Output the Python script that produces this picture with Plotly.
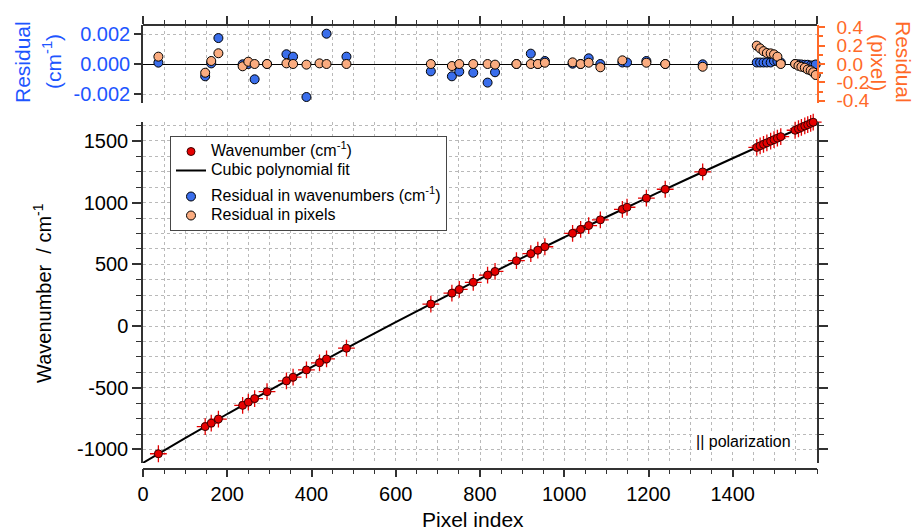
import plotly.graph_objects as go

# ---------------- data ----------------
pixel_index = [36.5, 147.6, 162, 179, 236.5, 250, 265, 294.4, 340.5, 356.3, 388, 419, 435.7, 483,
               683.3, 733.3, 750.8, 784, 818, 835.7, 886.5, 920.6, 937.3, 954, 1019.8, 1038.9, 1058,
               1085.7, 1138, 1149, 1195, 1239.7, 1328.6,
               1457, 1465, 1473, 1481, 1490, 1498, 1506, 1514,
               1548, 1556, 1563, 1571, 1578, 1585, 1591, 1597]
wavenumber = [-1035, -815, -787, -754, -643, -617, -588, -532, -445, -415, -356, -298, -267, -180,
              178, 266, 296, 354, 412, 442, 529, 586, 614, 642, 751, 783, 814,
              860, 945, 962, 1036, 1108, 1248,
              1447, 1460, 1472, 1484, 1498, 1510, 1522, 1534,
              1586, 1598, 1609, 1621, 1631, 1642, 1651, 1660]
resid_wn = [0.00009, -0.00082, 0.00004, 0.00173, -0.00002, 0.0, -0.00102, 0.0, 0.00065, 0.00049,
            -0.0022, 0.00265, 0.00202, 0.00049,
            -0.00049, -0.00082, -0.00051, -0.00058, -0.00124, -0.00055, 0.0, 0.00069, 0.0, 0.0002,
            0.00002, 0.0, 0.00038, 0.0, 0.0001, 0.0001, 0.0002, 0.0, -0.00002,
            0.0001, 0.0001, 0.0001, 0.0001, 0.0001, 0.0002, 0.0002, 0.0001,
            0.0, -0.00002, -0.00003, -0.00005, -0.00005, -0.0001, -0.0001, -0.00003]
resid_px = [0.08, -0.095, 0.033, 0.117, -0.025, 0.025, 0.0, 0.0, 0.007, 0.0,
            -0.007, 0.007, 0.0, 0.0,
            0.0, -0.022, 0.0, 0.0, 0.0, -0.007, 0.0, 0.0, 0.0, 0.014,
            0.018, 0.0, 0.014, -0.036, 0.04, 0.43, 0.014, 0.0, -0.03,
            0.2, 0.17, 0.14, 0.12, 0.116, 0.105, 0.08, 0.0,
            0.0, -0.02, -0.03, -0.04, -0.06, -0.07, -0.09, -0.12]
fit_x = [0, 100, 200, 300, 400, 500, 600, 700, 800, 900, 1000, 1100, 1200, 1300, 1400, 1500, 1600]
fit_y = [-1109, -909, -713, -521, -334, -149, 31, 208, 381, 552, 719, 883, 1044, 1203, 1359, 1513, 1665]

x_tickvals = [0, 200, 400, 600, 800, 1000, 1200, 1400]
x_ticktext = ["0", "200", "400", "600", "800", "1000", "1200", "1400"]
wn_tickvals = [-1000, -500, 0, 500, 1000, 1500]
wn_ticktext = ["-1000", "-500", "0", "500", "1000", "1500"]
rwn_tickvals = [-0.002, 0.0, 0.002]
rwn_ticktext = ["-0.002", "0.000", "0.002"]
rpx_tickvals = [-0.4, -0.2, 0.0, 0.2, 0.4]
rpx_ticktext = ["-0.4", "-0.2", "0.0", "0.2", "0.4"]

# ---------------- styling ----------------
FONT = "Liberation Sans, Arial, sans-serif"
BLUE_TXT = "rgb(30,85,255)"
ORANGE_TXT = "rgb(255,105,40)"
BLUE_M = "rgb(58,110,235)"
ORANGE_M = "rgb(250,172,128)"
RED = "rgb(230,0,0)"
GRID = "rgb(185,185,185)"
AX = "rgb(50,50,50)"

W, H = 914, 530
L, R = 143, 97
PW = W - L - R


def px_x(p):
    return (p - L) / PW


def px_y(p):
    return 1 - p / H


def leg(txt):
    return '<span style="font-size:16px">' + txt + '</span>'


fig = go.Figure()

# bottom panel
fig.add_trace(go.Scatter(x=fit_x, y=fit_y, mode="lines", line=dict(color="black", width=2, shape="spline"),
                         name=leg("Cubic polynomial fit"), legendgroup="g1", legendrank=2,
                         xaxis="x", yaxis="y"))
fig.add_trace(go.Scatter(x=pixel_index, y=wavenumber, mode="markers",
                         marker=dict(symbol="cross-thin", size=12, line=dict(color=RED, width=1.3)),
                         showlegend=False, hoverinfo="skip", cliponaxis=False, xaxis="x", yaxis="y"))
fig.add_trace(go.Scatter(x=pixel_index, y=wavenumber, mode="markers",
                         marker=dict(symbol="circle", size=8, color=RED, line=dict(color="rgb(60,0,0)", width=1)),
                         name=leg("Wavenumber (cm<sup>-1</sup>)"), legendgroup="g1", legendrank=1,
                         cliponaxis=False, xaxis="x", yaxis="y"))

# top panel residuals
fig.add_trace(go.Scatter(x=pixel_index, y=resid_wn, mode="markers",
                         marker=dict(symbol="circle", size=9, color=BLUE_M, line=dict(color="black", width=1)),
                         name=leg("Residual in wavenumbers (cm<sup>-1</sup>)"), legendgroup="g2", legendrank=3,
                         cliponaxis=False, xaxis="x2", yaxis="y2"))
fig.add_trace(go.Scatter(x=pixel_index, y=resid_px, mode="markers",
                         marker=dict(symbol="circle", size=9, color=ORANGE_M, line=dict(color="black", width=1)),
                         name=leg("Residual in pixels"), legendgroup="g2", legendrank=4,
                         cliponaxis=False, xaxis="x2", yaxis="y3"))

bottom_dom = [px_y(463.0), px_y(122.1)]
top_dom = [px_y(103), px_y(25)]

common_grid = dict(showgrid=True, gridcolor=GRID, gridwidth=0.8, griddash="dot")

fig.update_layout(
    width=W, height=H,
    margin=dict(l=L, r=R, t=0, b=0, autoexpand=False),
    paper_bgcolor="white", plot_bgcolor="white",
    font=dict(family=FONT, size=20, color="black"),
    showlegend=True,
    legend=dict(x=px_x(170), y=px_y(136), xanchor="left", yanchor="top",
                bgcolor="white", bordercolor="rgb(70,70,70)", borderwidth=1,
                font=dict(size=12, family=FONT), tracegroupgap=7, traceorder="grouped",
                itemwidth=30),
    xaxis=dict(domain=[0, 1], range=[0, 1600], anchor="free", position=px_y(468.7), automargin=False,
               showline=True, linecolor=AX, linewidth=1.5,
               ticks="outside", ticklen=8, tickwidth=1.5, tickcolor=AX,
               tickvals=x_tickvals, ticktext=x_ticktext,
               minor=dict(dtick=50, tick0=0, ticklen=5, tickwidth=1, tickcolor=AX, ticks="outside",
                          showgrid=True, gridcolor=GRID, gridwidth=0.8, griddash="dot"),
               zeroline=False, tickfont=dict(size=20), **common_grid),
    yaxis=dict(domain=bottom_dom, range=[-1110, 1652], anchor="x", automargin=False,
               showline=True, linecolor=AX, linewidth=1.5, mirror="ticks",
               ticks="outside", ticklen=9, tickwidth=1.5, tickcolor=AX,
               tickvals=wn_tickvals, ticktext=wn_ticktext,
               minor=dict(dtick=125, tick0=0, ticklen=5, tickwidth=1, tickcolor=AX, ticks="outside",
                          showgrid=True, gridcolor=GRID, gridwidth=0.8, griddash="dot"),
               zeroline=False, tickfont=dict(size=20), **common_grid),
    xaxis2=dict(domain=[0, 1], range=[0, 1600], anchor="free", position=px_y(25.0), side="top",
                matches="x", showticklabels=False, automargin=False,
                showline=True, linecolor=AX, linewidth=1.5,
                ticks="outside", ticklen=8, tickwidth=1.5, tickcolor=AX, dtick=200, tick0=0,
                minor=dict(dtick=50, ticklen=4, tickwidth=1, tickcolor=AX, ticks="outside",
                           showgrid=True, gridcolor=GRID, gridwidth=0.8, griddash="dot"),
                zeroline=False, **common_grid),
    yaxis2=dict(domain=top_dom, range=[-0.0026, 0.0026], anchor="x2", automargin=False,
                showline=True, linecolor=AX, linewidth=1.5,
                ticks="outside", ticklen=7, tickwidth=1.5, tickcolor=AX,
                tickvals=rwn_tickvals, ticktext=rwn_ticktext,
                tickfont=dict(size=20, color=BLUE_TXT),
                zeroline=True, zerolinecolor="black", zerolinewidth=1.2, **common_grid),
    yaxis3=dict(domain=top_dom, range=[-0.425, 0.425], anchor="x2", overlaying="y2", side="right",
                automargin=False,
                showline=True, linecolor=ORANGE_TXT, linewidth=1.5,
                ticks="outside", ticklen=6, tickwidth=1.5, tickcolor=ORANGE_TXT,
                ticklabelstandoff=8,
                tickvals=rpx_tickvals, ticktext=rpx_ticktext,
                minor=dict(dtick=0.1, tick0=0, ticklen=4, tickcolor=ORANGE_TXT, ticks="outside"),
                tickfont=dict(size=19, color=ORANGE_TXT),
                showgrid=False, zeroline=False),
)

annotations = [
    dict(text="Wavenumber  / cm<sup>-1</sup>", x=px_x(42), y=px_y(293), textangle=-90,
         font=dict(size=20, color="black")),
    dict(text="Pixel index", x=px_x(473), y=px_y(519), font=dict(size=21, color="black")),
    dict(text="Residual", x=px_x(23), y=px_y(62), textangle=-90,
         font=dict(size=21, color=BLUE_TXT)),
    dict(text="(cm<sup>-1</sup>)", x=px_x(52), y=px_y(62), textangle=-90,
         font=dict(size=21, color=BLUE_TXT)),
    dict(text="Residual", x=px_x(903), y=px_y(62), textangle=90,
         font=dict(size=21, color=ORANGE_TXT)),
    dict(text="(pixel)", x=px_x(878), y=px_y(62), textangle=90,
         font=dict(size=21, color=ORANGE_TXT)),
    dict(text="|| polarization", x=px_x(743), y=px_y(441), font=dict(size=16, color="black"),
         bgcolor="white"),
]
for a in annotations:
    a.update(xref="paper", yref="paper", showarrow=False, xanchor="center", yanchor="middle")
fig.update_layout(annotations=annotations)

fig.write_html("out.html", config={"displayModeBar": False},
               post_script="document.body.style.margin='0px';")
